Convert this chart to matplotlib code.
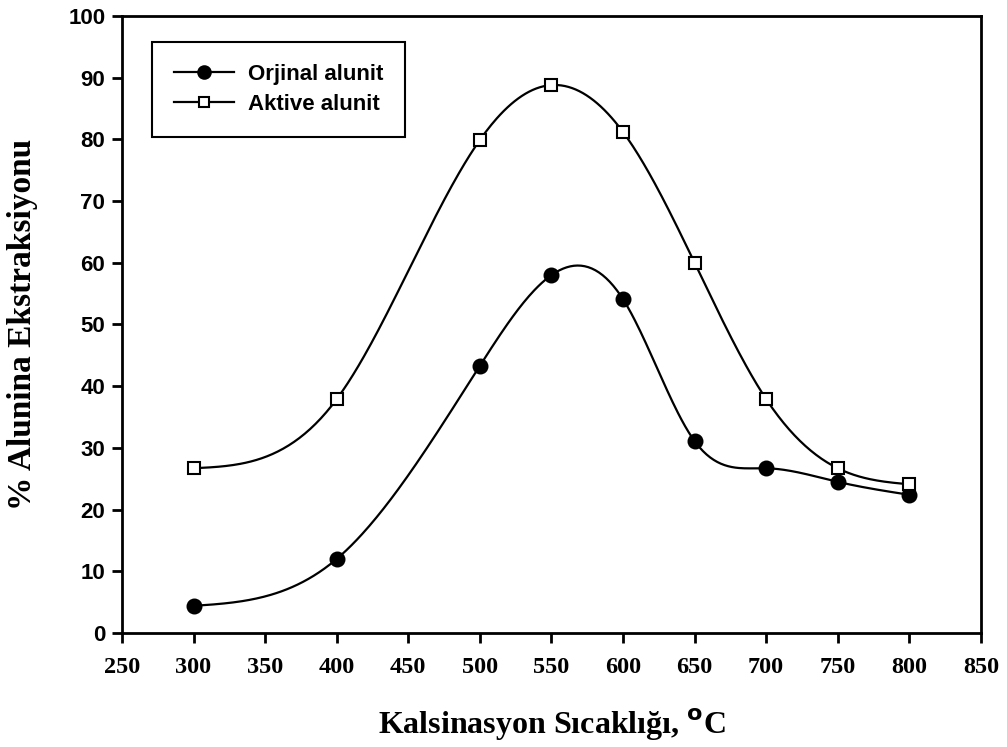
import numpy as np
import matplotlib
matplotlib.use("Agg")
import matplotlib.pyplot as plt

temps = [300, 400, 500, 550, 600, 650, 700, 750, 800]
orjinal = [4.4, 12.0, 43.3, 58.0, 54.1, 31.1, 26.7, 24.5, 22.4]
aktive = [26.7, 37.9, 79.9, 88.8, 81.2, 60.0, 37.9, 26.7, 24.1]
xticks = [250, 300, 350, 400, 450, 500, 550, 600, 650, 700, 750, 800, 850]
yticks = [0, 10, 20, 30, 40, 50, 60, 70, 80, 90, 100]


def natural_spline(x, y, n=400):
    x = np.asarray(x, float)
    y = np.asarray(y, float)
    m = len(x)
    h = np.diff(x)
    A = np.zeros((m, m))
    b = np.zeros(m)
    A[0, 0] = 1
    A[-1, -1] = 1
    for i in range(1, m - 1):
        A[i, i - 1] = h[i - 1]
        A[i, i] = 2 * (h[i - 1] + h[i])
        A[i, i + 1] = h[i]
        b[i] = 6 * ((y[i + 1] - y[i]) / h[i] - (y[i] - y[i - 1]) / h[i - 1])
    M = np.linalg.solve(A, b)
    xs = np.linspace(x[0], x[-1], n)
    idx = np.clip(np.searchsorted(x, xs) - 1, 0, m - 2)
    xi, xi1 = x[idx], x[idx + 1]
    hi = h[idx]
    t1 = xi1 - xs
    t0 = xs - xi
    ys = (M[idx] * t1 ** 3 / (6 * hi) + M[idx + 1] * t0 ** 3 / (6 * hi)
          + (y[idx] / hi - M[idx] * hi / 6) * t1
          + (y[idx + 1] / hi - M[idx + 1] * hi / 6) * t0)
    return xs, ys


fig = plt.figure(figsize=(10.07, 7.47), dpi=100)
ax = fig.add_axes([0.1211, 0.1526, 0.8530, 0.8260])

for data, fc, mk, ms, lab in [(orjinal, "black", "o", 10, "Orjinal alunit"),
                              (aktive, "white", "s", 8, "Aktive alunit")]:
    xs, ys = natural_spline(temps, data)
    ax.plot(xs, ys, color="black", lw=1.6, zorder=2)
    ax.plot(temps, data, linestyle="none", marker=mk, markersize=ms,
            markerfacecolor=fc, markeredgecolor="black", markeredgewidth=1.5, zorder=3)
    ax.plot([], [], color="black", lw=1.6, marker=mk, markersize=ms * 0.9,
            markerfacecolor=fc, markeredgecolor="black", markeredgewidth=1.5, label=lab)

ax.set_xlim(250, 850)
ax.set_ylim(0, 100)
ax.set_xticks(xticks)
ax.set_yticks(yticks)
ax.set_xticklabels([str(v) for v in xticks], fontfamily="Liberation Serif", fontsize=17.5,
                   fontweight="bold")
ax.set_yticklabels([str(v) for v in yticks], fontfamily="Liberation Sans", fontsize=16, fontweight="bold")
ax.tick_params(direction="out", length=7, width=2, pad=5)
ax.tick_params(axis="x", pad=10)
for s in ax.spines.values():
    s.set_linewidth(2)

ax.set_xlabel("Kalsinasyon Sıcaklığı, $^{\\mathbf{o}}$C", fontfamily="Liberation Serif",
              fontsize=23, fontweight="bold")
ax.xaxis.set_label_coords(0.5, -0.12)
ax.set_ylabel("% Alunina Ekstraksiyonu", fontfamily="Liberation Serif",
              fontsize=24, fontweight="bold")
ax.yaxis.set_label_coords(-0.098, 0.5)

leg = ax.legend(loc="upper left", bbox_to_anchor=(0.035, 0.958), frameon=True,
                fancybox=False, edgecolor="black", framealpha=1,
                prop={"family": "Liberation Sans", "weight": "bold", "size": 16},
                handlelength=2.7, borderpad=1.0, labelspacing=0.4, handletextpad=0.6,
                borderaxespad=0)
leg.get_frame().set_linewidth(1.5)

fig.savefig("out.png", dpi=100)
